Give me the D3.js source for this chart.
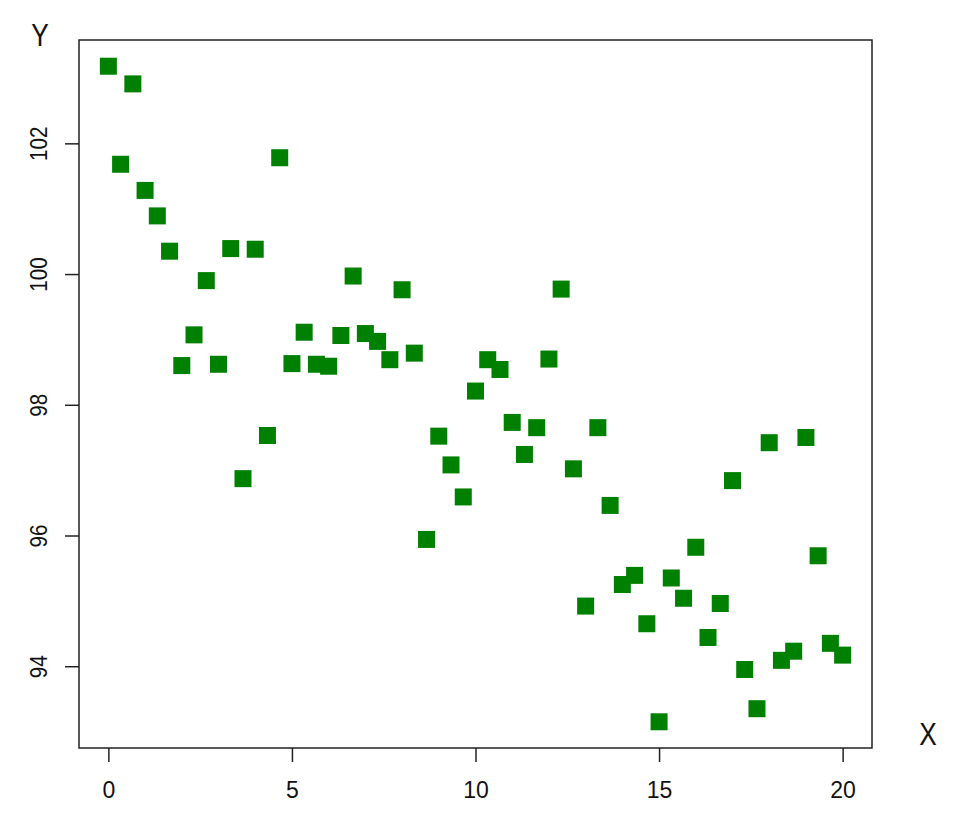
<!DOCTYPE html>
<html>
<head>
<meta charset="utf-8">
<script src="https://cdn.jsdelivr.net/npm/d3@7"></script>
<style>
  body { margin: 0; background: #ffffff; }
  svg { display: block; }
</style>
</head>
<body>
<div id="chart"></div>
<script>
const xValues = [
    0, 0.333, 0.667, 1, 1.333, 1.667, 2, 2.333, 2.667, 3,
    3.333, 3.667, 4, 4.333, 4.667, 5, 5.333, 5.667, 6, 6.333,
    6.667, 7, 7.333, 7.667, 8, 8.333, 8.667, 9, 9.333, 9.667,
    10, 10.333, 10.667, 11, 11.333, 11.667, 12, 12.333, 12.667, 13,
    13.333, 13.667, 14, 14.333, 14.667, 15, 15.333, 15.667, 16, 16.333,
    16.667, 17, 17.333, 17.667, 18, 18.333, 18.667, 19, 19.333, 19.667,
    20
];
const yValues = [
    103.18, 101.68, 102.91, 101.28, 100.89, 100.35, 98.60, 99.07, 99.90, 98.62,
    100.39, 96.87, 100.38, 97.53, 101.78, 98.63, 99.11, 98.62, 98.59, 99.06,
    99.97, 99.09, 98.97, 98.69, 99.76, 98.79, 95.94, 97.52, 97.08, 96.59,
    98.21, 98.69, 98.54, 97.73, 97.24, 97.65, 98.70, 99.77, 97.02, 94.92,
    97.65, 96.46, 95.25, 95.39, 94.65, 93.15, 95.35, 95.04, 95.82, 94.44,
    94.96, 96.84, 93.95, 93.35, 97.42, 94.09, 94.23, 97.50, 95.69, 94.35,
    94.17
];
const xTicks = [0, 5, 10, 15, 20];
const yTicks = [94, 96, 98, 100, 102];

const width = 960;
const height = 823;
const box = { left: 79, right: 872, top: 40, bottom: 748 };
const pointSize = 17;
const pointColor = "#008000";
const lineColor = "#222222";
const font = "'Liberation Sans', Arial, sans-serif";

// pad the data range by 4% on each side, like R does
const padded = (values) => {
    const [lo, hi] = d3.extent(values);
    const pad = (hi - lo) * 0.04;
    return [lo - pad, hi + pad];
};

const x = d3.scaleLinear().domain(padded(xValues)).range([box.left, box.right]);
const y = d3.scaleLinear().domain(padded(yValues)).range([box.bottom, box.top]);

const svg = d3.select("#chart").append("svg")
    .attr("width", width)
    .attr("height", height);

svg.append("rect")
    .attr("x", box.left)
    .attr("y", box.top)
    .attr("width", box.right - box.left)
    .attr("height", box.bottom - box.top)
    .attr("fill", "none")
    .attr("stroke", lineColor)
    .attr("stroke-width", 1.5);

const xAxis = svg.append("g")
    .attr("transform", `translate(0,${box.bottom})`)
    .call(d3.axisBottom(x).tickValues(xTicks).tickSize(14).tickSizeOuter(0));
xAxis.select(".domain").remove();
xAxis.selectAll(".tick line").attr("stroke", lineColor).attr("stroke-width", 1.5);
xAxis.selectAll(".tick text")
    .attr("y", 0)
    .attr("dy", 0)
    .attr("transform", "translate(0,50)")
    .attr("fill", "#111")
    .style("font-family", font)
    .style("font-size", "23px");

const yAxis = svg.append("g")
    .attr("transform", `translate(${box.left},0)`)
    .call(d3.axisLeft(y).tickValues(yTicks).tickSize(14).tickSizeOuter(0));
yAxis.select(".domain").remove();
yAxis.selectAll(".tick line").attr("stroke", lineColor).attr("stroke-width", 1.5);
yAxis.selectAll(".tick text")
    .attr("x", 0)
    .attr("y", 0)
    .attr("dy", 0)
    .attr("text-anchor", "middle")
    .attr("transform", "translate(-32,0) rotate(-90) scale(0.9,1)")
    .attr("fill", "#111")
    .style("font-family", font)
    .style("font-size", "23px");

svg.append("g")
    .selectAll("rect")
    .data(xValues)
    .join("rect")
    .attr("x", (d) => x(d) - pointSize / 2)
    .attr("y", (d, i) => y(yValues[i]) - pointSize / 2)
    .attr("width", pointSize)
    .attr("height", pointSize)
    .attr("fill", pointColor);

svg.append("text")
    .attr("transform", "translate(40,46) scale(0.82,1)")
    .attr("text-anchor", "middle")
    .attr("fill", "#111")
    .style("font-family", font)
    .style("font-size", "32px")
    .text("Y");

svg.append("text")
    .attr("transform", "translate(928,745) scale(0.82,1)")
    .attr("text-anchor", "middle")
    .attr("fill", "#111")
    .style("font-family", font)
    .style("font-size", "32px")
    .text("X");
</script>
</body>
</html>
